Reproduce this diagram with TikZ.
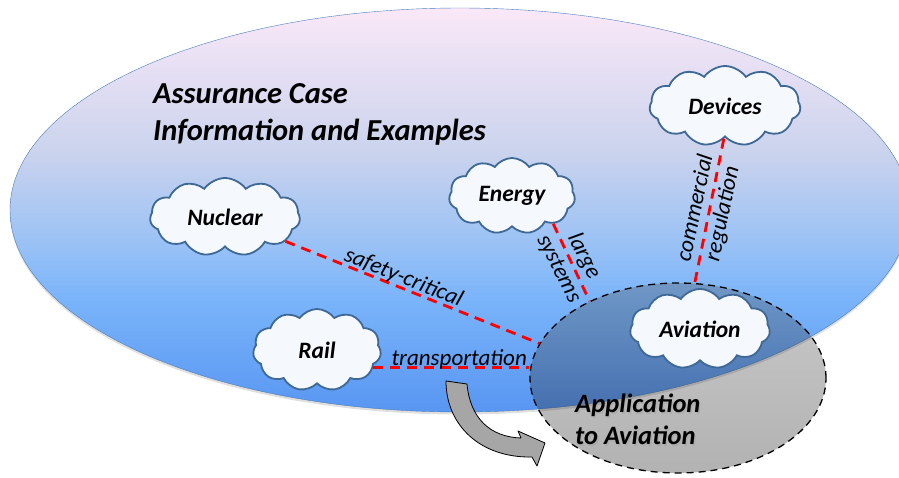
\documentclass[tikz,border=0pt]{standalone}
\usepackage{fontspec}
\setmainfont{Carlito}
\usepackage{xcolor}
\usepackage{tikz}
\usetikzlibrary{shapes.geometric, shapes.symbols, arrows, positioning, shadows}
\definecolor{caseTop}{RGB}{250,232,248}
\definecolor{caseUpper}{RGB}{202,211,237}
\definecolor{caseMid}{RGB}{150,192,246}
\definecolor{caseLower}{RGB}{122,180,250}
\definecolor{caseBottom}{RGB}{88,150,242}
\definecolor{caseEdge}{RGB}{74,126,187}
\definecolor{cloudEdge}{RGB}{62,104,150}
\definecolor{cloudFill}{RGB}{245,248,253}
\definecolor{arrowGray}{RGB}{166,166,166}
\pgfdeclareverticalshading{assurance}{100bp}{color(0bp)=(caseBottom); color(25bp)=(caseBottom); color(39bp)=(caseLower); color(45bp)=(caseMid); color(57bp)=(caseUpper); color(75bp)=(caseTop); color(100bp)=(caseTop)}
\tikzstyle{casebubble} = [ellipse, draw=caseEdge, thin, shading=assurance, minimum width=900pt, minimum height=404pt, inner sep=0pt, drop shadow={shadow xshift=0pt, shadow yshift=-2.5pt, opacity=0.25}]
\tikzstyle{appbubble} = [ellipse, draw=black, line width=1.3pt, dash pattern=on 7pt off 5pt, top color=black!70, bottom color=black, fill opacity=0.3, minimum width=296pt, minimum height=190pt, inner sep=0pt]
\tikzstyle{puff} = [cloud, cloud puffs=11, cloud puff arc=110, aspect=2, draw=cloudEdge, line width=1.8pt, fill=cloudFill, inner sep=0pt, font=\fontsize{23.5}{26}\selectfont\bfseries\itshape]
\tikzstyle{heading} = [anchor=north west, align=left, inner sep=0pt, font=\fontsize{30.5}{37}\selectfont\bfseries\itshape]
\tikzstyle{apptitle} = [anchor=north west, align=left, inner sep=0pt, font=\fontsize{26.5}{32}\selectfont\bfseries\itshape]
\tikzstyle{link} = [red, line width=2.8pt, dash pattern=on 10pt off 7pt]
\tikzstyle{linklabel} = [text=black, inner sep=1pt, align=center, font=\fontsize{23}{28}\selectfont\itshape]
\tikzstyle{turn} = [draw=black, thick, fill=arrowGray, line join=round]

\begin{document}
\begin{tikzpicture}[x=1pt, y=-1pt]
\useasboundingbox (0,0) rectangle (899,477);
\node (case) [casebubble] at (460,210) {};
\node (app) [appbubble] at (678,378) {};
\node (title) [heading] at (153,83) {Assurance Case\\Information and Examples};

\node (nuclear) [puff, minimum width=150pt, minimum height=78pt] at (225,217) {Nuclear};
\node (energy) [puff, minimum width=126pt, minimum height=76pt] at (512,196) {Energy};
\node (devices) [puff, minimum width=151pt, minimum height=80pt] at (725,106) {Devices};
\node (rail) [puff, minimum width=128pt, minimum height=82pt] at (317,350) {Rail};
\node (aviation) [puff, minimum width=140pt, minimum height=80pt] at (700,329) {Aviation};

\node (appshadow) [apptitle, text=black!40, opacity=0.35] at (576.5,395.5) {Application\\to Aviation};
\node (apptext) [apptitle] at (575,394) {Application\\to Aviation};

\draw [link] (nuclear) -- node[linklabel, above=-2pt, sloped, pos=0.45] {safety-critical} (app.166);
\draw [link] (rail.-17) -- node[linklabel, above=-4pt, pos=0.55] {transportation} (rail.-17 -| app.west);
\draw [link] (energy.-34) -- node[linklabel, rotate=-63] {large\\systems} (app.139);
\draw [link] (devices.-92) -- node[linklabel, rotate=78] {commercial\\regulation} (app.80);

% block arrow pointing into the application
\draw [turn] (446,381) -- (467,384) .. controls (470,418) and (490,437) .. (521,438)
  -- (518,431) -- (545,443) -- (537,466) -- (532,457)
  .. controls (480,458) and (446,425) .. cycle;
\end{tikzpicture}
\end{document}
